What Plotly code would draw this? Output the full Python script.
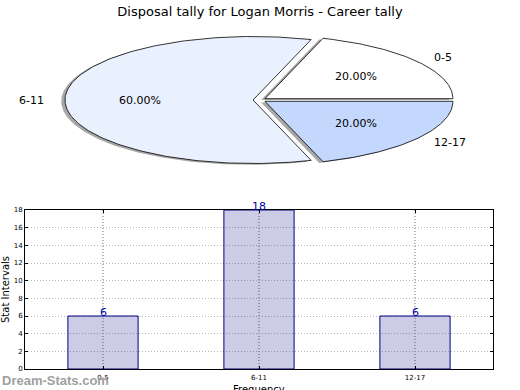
import math
import plotly.graph_objects as go

# ---- data ----
categories = ["0-5", "6-11", "12-17"]
counts = [6, 18, 6]
pie_colors = ["#ffffff", "#eaf1fe", "#c4d8fe"]
title_text = "Disposal tally for Logan Morris - Career tally"
y_ticks = [0, 2, 4, 6, 8, 10, 12, 14, 16, 18]

W, H = 520, 390
FONT = "DejaVu Sans"

# pie geometry (pixel space of hidden axes)
CX, CY = 259.6, 100.0
RA, RB = 188.0, 63.5
EXPLODE = 0.035
SHADOW_DX, SHADOW_DY = -0.02, -0.02

fig = go.Figure()

total = sum(counts)
start = 0.0
wedges = []
for lab, v, col in zip(categories, counts, pie_colors):
    frac = v / total
    t1 = start
    t2 = start + 360.0 * frac
    mid = math.radians((t1 + t2) / 2)
    ox = EXPLODE * math.cos(mid)
    oy = EXPLODE * math.sin(mid)
    n = max(8, int((t2 - t1) / 1.0))
    ts = [math.radians(t1 + (t2 - t1) * k / n) for k in range(n + 1)]
    ux = [ox] + [ox + math.cos(t) for t in ts] + [ox]
    uy = [oy] + [oy + math.sin(t) for t in ts] + [oy]
    wedges.append((lab, frac, col, ux, uy, mid, ox, oy))
    start = t2


def to_px(ux, uy, dx=0.0, dy=0.0):
    return ([CX + RA * (u + dx) for u in ux], [CY - RB * (v + dy) for v in uy])

# shadows
for lab, frac, col, ux, uy, mid, ox, oy in wedges:
    px, py = to_px(ux, uy, SHADOW_DX, SHADOW_DY)
    fig.add_trace(go.Scatter(x=px, y=py, xaxis="x2", yaxis="y2", mode="lines",
                             fill="toself", fillcolor="rgba(110,110,110,0.6)",
                             line=dict(width=0), hoverinfo="skip", showlegend=False))
# wedges
for lab, frac, col, ux, uy, mid, ox, oy in wedges:
    px, py = to_px(ux, uy)
    fig.add_trace(go.Scatter(x=px, y=py, xaxis="x2", yaxis="y2", mode="lines",
                             fill="toself", fillcolor=col,
                             line=dict(color="black", width=0.8), hoverinfo="skip",
                             showlegend=False))

annotations = []
for lab, frac, col, ux, uy, mid, ox, oy in wedges:
    lx = CX + RA * (ox + 1.1 * math.cos(mid))
    ly = CY - RB * (oy + 1.1 * math.sin(mid))
    annotations.append(dict(x=lx, y=ly, xref="x2", yref="y2", text=lab, showarrow=False,
                            xanchor="left" if math.cos(mid) > 0 else "right",
                            yanchor="middle", font=dict(family=FONT, size=11, color="black")))
    pxl = CX + RA * (ox + 0.6 * math.cos(mid))
    pyl = CY - RB * (oy + 0.6 * math.sin(mid))
    annotations.append(dict(x=pxl, y=pyl, xref="x2", yref="y2", text="%.2f%%" % (frac * 100),
                            showarrow=False, xanchor="center", yanchor="middle",
                            font=dict(family=FONT, size=11, color="black")))

# bar chart
fig.add_trace(go.Bar(x=categories, y=counts, width=0.45,
                     marker=dict(color="rgba(0,0,128,0.2)", line=dict(color="#000080", width=1)),
                     hoverinfo="skip", showlegend=False))

for cat, c in zip(categories, counts):
    annotations.append(dict(x=cat, y=c, xref="x", yref="y", text=str(c), showarrow=False,
                            xanchor="center", yanchor="middle", yshift=4,
                            font=dict(family=FONT, size=11, color="#0000aa")))

# x axis title (placed like the reference, partly below the page edge)
annotations.append(dict(x=(25 + 493) / 2 / W, y=(H - 389) / H, xref="paper", yref="paper",
                        xanchor="center", yanchor="middle", text="Frequency", showarrow=False,
                        font=dict(family=FONT, size=10, color="black")))

annotations.append(dict(x=0, y=(H - 380) / H, xref="paper", yref="paper", xanchor="left",
                        yanchor="middle", text="<b>Dream-Stats.com</b>", showarrow=False,
                        font=dict(family="Liberation Sans", size=13, color="#a0a0a0")))

fig.update_layout(
    width=W, height=H, margin=dict(l=0, r=0, t=0, b=0),
    paper_bgcolor="white", plot_bgcolor="white",
    title=dict(text=title_text, x=0.5, xanchor="center", y=1 - 11 / H, yanchor="middle",
               yref="container", font=dict(family=FONT, size=13, color="black"),
               automargin=False),
    xaxis=dict(domain=[25 / W, 493 / W], range=[-0.5, 2.5], type="category",
               showline=True, linecolor="black", linewidth=1, mirror="allticks",
               showgrid=True, gridcolor="#b8b8b8", griddash="1px,2px", gridwidth=1.5,
               ticks="inside", ticklen=3, tickcolor="black", ticklabelstandoff=2,
               tickfont=dict(family=FONT, size=7, color="black"),
               automargin=False, zeroline=False, fixedrange=True),
    yaxis=dict(domain=[21 / H, 180 / H], range=[0, 18], tickvals=y_ticks,
               showline=True, linecolor="black", linewidth=1, mirror="allticks",
               showgrid=True, gridcolor="#b8b8b8", griddash="1px,2px", gridwidth=1,
               ticks="inside", ticklen=3, tickcolor="black",
               tickfont=dict(family=FONT, size=7, color="black"),
               title=dict(text="Stat Intervals", standoff=4,
                          font=dict(family=FONT, size=10, color="black")),
               automargin=False, zeroline=False, fixedrange=True),
    xaxis2=dict(domain=[0, 1], range=[0, W], visible=False, fixedrange=True),
    yaxis2=dict(domain=[1 - 200 / H, 1], range=[200, 0], visible=False, fixedrange=True),
    annotations=annotations,
)

fig.write_html("out.html", config={"displayModeBar": False},
               post_script="document.body.style.margin='0';")
